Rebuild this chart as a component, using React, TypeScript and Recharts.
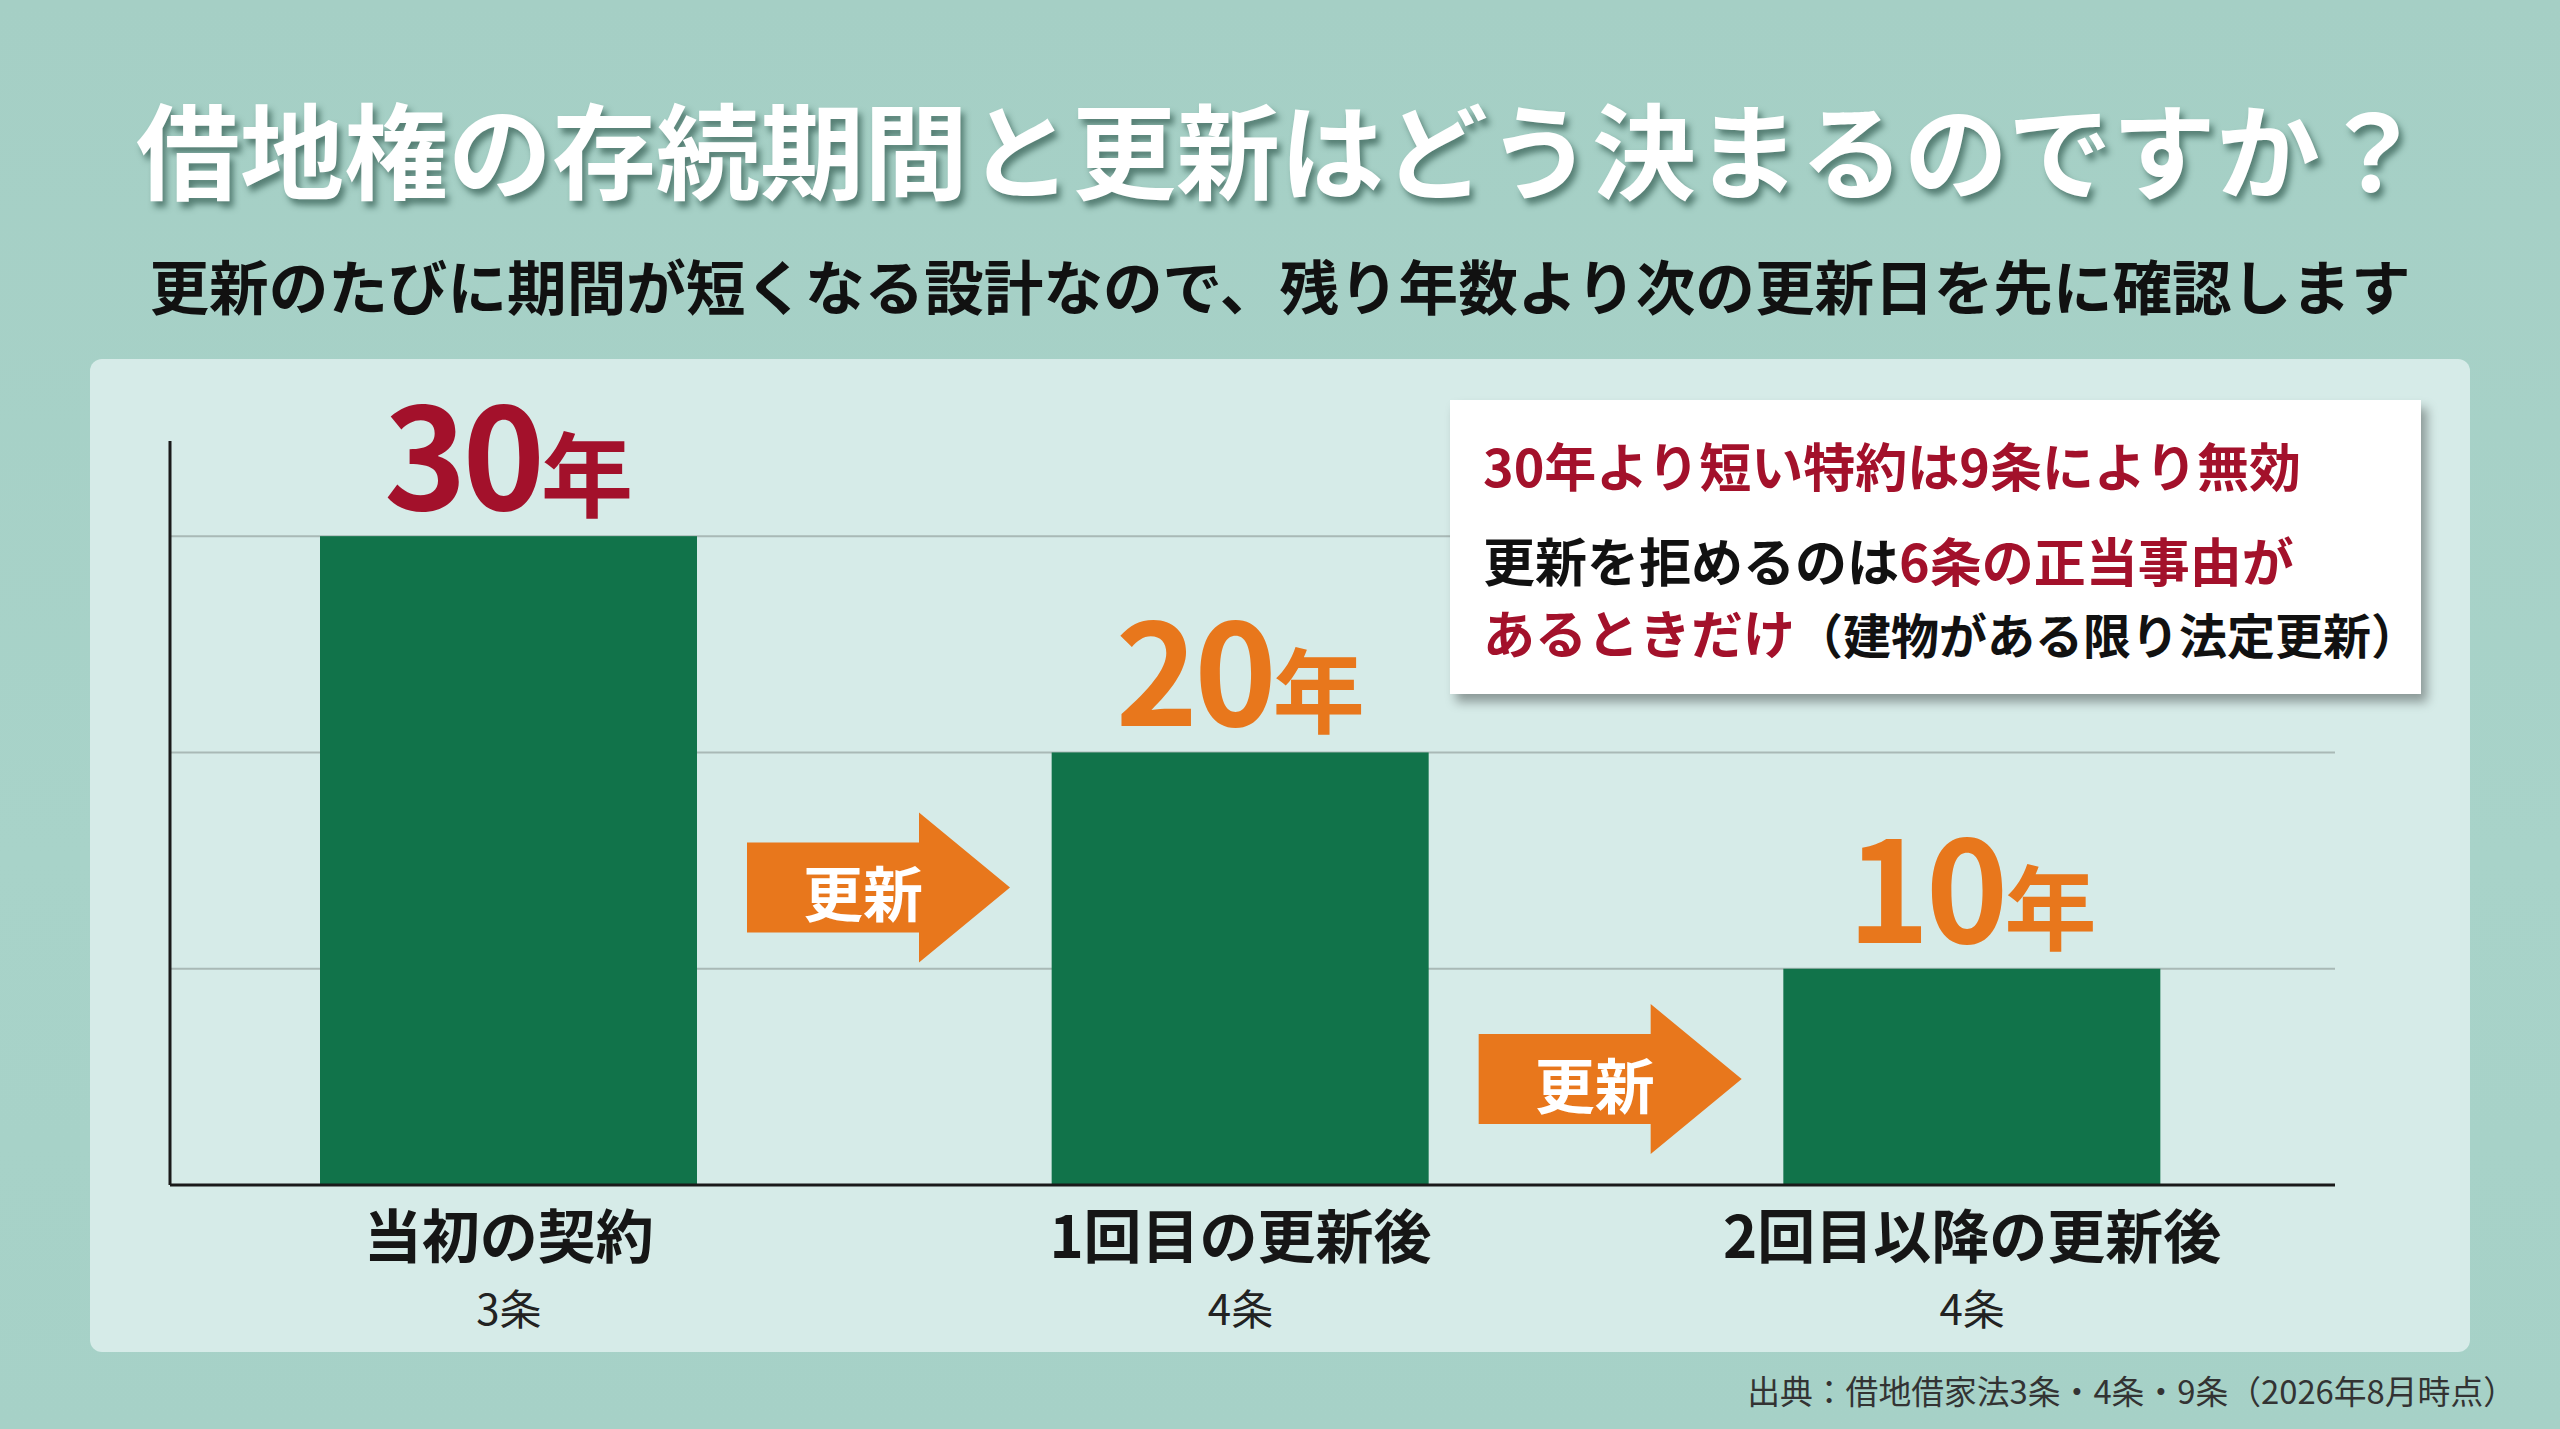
import { BarChart, Bar, XAxis, YAxis, CartesianGrid, LabelList } from 'recharts';

const categories = ['当初の契約', '1回目の更新後', '2回目以降の更新後'];
const articles = ['3条', '4条', '4条'];
const years = [30, 20, 10];
const labelColors = ['#a3112b', '#e8771c', '#e8771c'];
// vertical level of the "更新" arrows (in years), drawn after bars 1 and 2
const arrowLevels = [13.75, 4.9];
const yTicks = [0, 10, 20, 30];

const data = categories.map((name, i) => ({ name, article: articles[i], years: years[i] }));

const FONT = '"Noto Sans CJK JP", "Noto Sans", sans-serif';
const GREEN = '#11734a';
const ORANGE = '#e8771c';

function BarWithArrow(props: any) {
  const { x, y, width, height, index, value } = props;
  const v = Array.isArray(value) ? value[1] : value;
  const base = y + height;
  const perUnit = v ? height / v : 0;
  const level = arrowLevels[index];
  let arrow = null;
  if (level !== undefined) {
    const L = x + width + 50;
    const C = base - level * perUnit;
    const d = `M${L},${C - 45} H${L + 172} V${C - 75} L${L + 263},${C} L${L + 172},${C + 75} V${C + 45} H${L} Z`;
    arrow = (
      <g>
        <path d={d} fill={ORANGE} />
        <text
          x={L + 116}
          y={C + 3}
          textAnchor="middle"
          dominantBaseline="central"
          fill="#ffffff"
          fontFamily={FONT}
          fontWeight={700}
          fontSize={60}
        >
          更新
        </text>
      </g>
    );
  }
  return (
    <g>
      <rect x={x} y={y} width={width} height={height} fill={GREEN} />
      {arrow}
    </g>
  );
}

function YearLabel(props: any) {
  const { x, y, width, value, index } = props;
  const i = typeof index === 'number' ? index : years.indexOf(value);
  return (
    <text
      x={x + width / 2}
      y={y - 26}
      textAnchor="middle"
      fill={labelColors[i] || ORANGE}
      fontFamily={FONT}
      fontWeight={700}
      fontSize={140}
      letterSpacing={-4}
    >
      {value}
      <tspan fontSize={92} letterSpacing={0}>年</tspan>
    </text>
  );
}

function CategoryTick(props: any) {
  const { x, y, payload } = props;
  const i = categories.indexOf(payload.value);
  return (
    <g>
      <text x={x} y={y + 73} textAnchor="middle" fill="#161616" fontFamily={FONT} fontWeight={700} fontSize={58}>
        {payload.value}
      </text>
      <text x={x} y={y + 140} textAnchor="middle" fill="#222" fontFamily={FONT} fontSize={42}>
        {articles[i]}
      </text>
    </g>
  );
}

// the value axis shows no numbers, only its line and the grid
const NoTick = () => <g />;

export default function App() {
  return (
    <div
      style={{
        position: 'absolute',
        left: 0,
        top: 0,
        width: 2560,
        height: 1429,
        overflow: 'hidden',
        background: 'linear-gradient(180deg, #a5cfc5 0%, #a8d3c9 60%, #a6d1c7 100%)',
        fontFamily: FONT,
      }}
    >
      <div
        style={{
          position: 'absolute',
          left: 0,
          width: 2560,
          top: 95,
          textAlign: 'center',
          fontSize: 104,
          lineHeight: '104px',
          fontWeight: 700,
          color: '#ffffff',
          textShadow: '4px 6px 6px rgba(20,60,50,0.55)',
          whiteSpace: 'nowrap',
        }}
      >
        借地権の存続期間と更新はどう決まるのですか？
      </div>
      <div
        style={{
          position: 'absolute',
          left: 0,
          width: 2560,
          top: 254,
          textAlign: 'center',
          fontSize: 59.6,
          lineHeight: '60px',
          fontWeight: 700,
          color: '#111111',
          whiteSpace: 'nowrap',
        }}
      >
        更新のたびに期間が短くなる設計なので、残り年数より次の更新日を先に確認します
      </div>

      {/* chart panel */}
      <div
        style={{
          position: 'absolute',
          left: 90,
          top: 359,
          width: 2380,
          height: 993,
          background: '#d6ebe8',
          borderRadius: 12,
        }}
      />

      <div style={{ position: 'absolute', left: 0, top: 0 }}>
        <BarChart
          width={2560}
          height={1429}
          data={data}
          margin={{ top: 441, right: 225, left: 166, bottom: 124 }}
        >
          <CartesianGrid horizontal vertical={false} syncWithTicks stroke="#a9b9b6" strokeWidth={2} />
          <YAxis
            width={4}
            domain={[0, 34.4]}
            ticks={yTicks}
            tick={<NoTick />}
            tickLine={false}
            axisLine={{ stroke: '#1a1a1a', strokeWidth: 3 }}
          />
          <XAxis
            dataKey="name"
            height={120}
            padding={{ left: -27, right: -3 }}
            tickLine={false}
            tickSize={0}
            tickMargin={0}
            axisLine={{ stroke: '#1a1a1a', strokeWidth: 3 }}
            tick={<CategoryTick />}
          />
          <Bar dataKey="years" barSize={377} fill={GREEN} shape={<BarWithArrow />} isAnimationActive={false}>
            <LabelList dataKey="years" content={<YearLabel />} />
          </Bar>
        </BarChart>
      </div>

      {/* note box */}
      <div
        style={{
          position: 'absolute',
          left: 1450,
          top: 400,
          width: 971,
          height: 294,
          background: '#ffffff',
          boxShadow: '6px 8px 10px rgba(0,0,0,0.35)',
          fontWeight: 700,
          fontSize: 52,
          lineHeight: '52px',
          whiteSpace: 'nowrap',
        }}
      >
        <div style={{ position: 'absolute', left: 33, top: 39, color: '#a3112b' }}>
          30年より短い特約は9条により無効
        </div>
        <div style={{ position: 'absolute', left: 33, top: 134, color: '#111111' }}>
          更新を拒めるのは<span style={{ color: '#a3112b' }}>6条の正当事由が</span>
        </div>
        <div style={{ position: 'absolute', left: 33, top: 206, color: '#111111' }}>
          <span style={{ color: '#a3112b' }}>あるときだけ</span>
          <span style={{ fontSize: 48 }}>（建物がある限り法定更新）</span>
        </div>
      </div>

      <div
        style={{
          position: 'absolute',
          right: 44,
          top: 1373,
          fontSize: 32.8,
          lineHeight: '33px',
          color: '#333333',
          whiteSpace: 'nowrap',
        }}
      >
        出典：借地借家法3条・4条・9条（2026年8月時点）
      </div>
    </div>
  );
}
